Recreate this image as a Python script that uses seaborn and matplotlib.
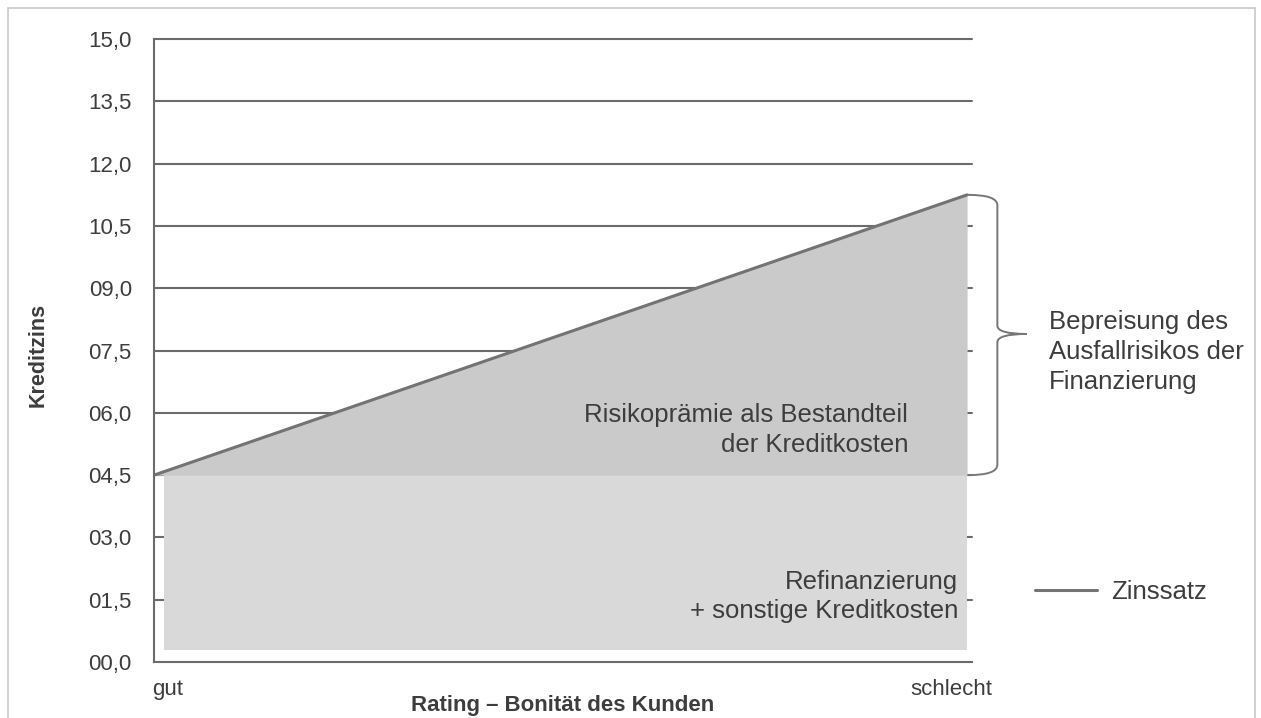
import numpy as np
import pandas as pd
import matplotlib
matplotlib.use("Agg")
import matplotlib.pyplot as plt
import matplotlib.transforms as mtrans
from matplotlib.path import Path
from matplotlib.patches import PathPatch, Rectangle
import seaborn as sns

# data
rating = [0.0, 0.994]            # gut -> schlecht
zinssatz = [4.5, 11.25]          # interest rate line
refi_x = [0.012, 0.994]
refi_low = [0.3, 0.3]
refi_high = [4.5, 4.5]
y_ticks = [0.0, 1.5, 3.0, 4.5, 6.0, 7.5, 9.0, 10.5, 12.0, 13.5, 15.0]
y_tick_labels = ["00,0", "01,5", "03,0", "04,5", "06,0", "07,5",
                 "09,0", "10,5", "12,0", "13,5", "15,0"]
x_tick_pos = [0.017, 0.975]
x_tick_labels = ["gut", "schlecht"]

txt = "#3d3d3d"
grid_c = "#6b6b6b"

sns.set_style("white")
plt.rcParams["font.family"] = ["Liberation Sans", "DejaVu Sans"]

W, H = 1261, 718
fig = plt.figure(figsize=(W / 100, H / 100), dpi=100)
ax = fig.add_axes([154 / W, (718 - 662) / H, (972 - 154) / W, (662 - 35) / H])

# gridlines behind the areas
for yv in y_ticks[1:]:
    ax.axhline(yv, color=grid_c, lw=1.5, zorder=0.5, clip_on=False)

df = pd.DataFrame({"rating": rating, "zins": zinssatz})
ax.fill_between(refi_x, refi_low, refi_high, color="#d9d9d9", lw=0, zorder=1)
ax.fill_between(rating, [refi_high[0]] * 2, zinssatz, color="#cacaca", lw=0, zorder=1)
sns.lineplot(data=df, x="rating", y="zins", color="#737373", lw=2.2, ax=ax,
             label="Zinssatz", zorder=3)

ax.set_xlim(0, 1)
ax.set_ylim(0, 15.1)
ax.set_yticks(y_ticks)
ax.set_yticklabels(y_tick_labels)
ax.set_xticks(x_tick_pos)
ax.set_xticklabels(x_tick_labels)
ax.tick_params(axis="y", length=0, pad=16, labelsize=16, labelcolor=txt)
ax.tick_params(axis="x", length=0, pad=12, labelsize=16, labelcolor=txt)
ax.set_xlabel("")
ax.set_ylabel("")
for side in ["top", "right"]:
    ax.spines[side].set_visible(False)
for side in ["left", "bottom"]:
    ax.spines[side].set_color(grid_c)
    ax.spines[side].set_linewidth(1.5)
    ax.spines[side].set_zorder(4)
ax.spines["left"].set_bounds(0, 15)

# labels inside the areas
ax.text(0.922, 5.59, "Risikoprämie als Bestandteil\nder Kreditkosten", ha="right",
        va="center", fontsize=18.5, color=txt, linespacing=1.3, zorder=5)
ax.text(0.983, 1.58, "Refinanzierung\n+ sonstige Kreditkosten", ha="right",
        va="center", fontsize=18.5, color=txt, linespacing=1.3, zorder=5)

# curly brace on the right
tr = mtrans.blended_transform_factory(ax.transAxes, ax.transData)
x0, x1, x2 = 0.995, 1.031, 1.067
top, mid, bot = zinssatz[1], 7.9, refi_high[0]
verts = [(x0, top), (x1, top), (x1, top - 0.25),
         (x1, mid + 0.2), (x1, mid), (x2, mid),
         (x1, mid), (x1, mid - 0.2),
         (x1, bot + 0.25), (x1, bot), (x0, bot)]
codes = [Path.MOVETO, Path.CURVE3, Path.CURVE3,
         Path.LINETO, Path.CURVE3, Path.CURVE3,
         Path.CURVE3, Path.CURVE3,
         Path.LINETO, Path.CURVE3, Path.CURVE3]
ax.add_patch(PathPatch(Path(verts, codes), transform=tr, fill=False,
                       edgecolor="#777777", lw=1.4, clip_on=False))

fig.text(1049 / W, (718 - 352) / H, "Bepreisung des\nAusfallrisikos der\nFinanzierung",
         ha="left", va="center", fontsize=18.5, color=txt, linespacing=1.33)

# axis titles
fig.text(38 / W, (718 - 355) / H, "Kreditzins", rotation=90, ha="center", va="center",
         fontsize=15.5, fontweight="bold", color=txt)
fig.text(563 / W, (718 - 706) / H, "Rating – Bonität des Kunden", ha="center",
         va="center", fontsize=16, fontweight="bold", color=txt)

leg = ax.legend(loc="center left", bbox_to_anchor=(1035 / W, (718 - 592) / H),
                bbox_transform=fig.transFigure, frameon=False, fontsize=18.5,
                handlelength=2.4, handletextpad=0.55, borderpad=0, borderaxespad=0)
for t in leg.get_texts():
    t.set_color(txt)

# light frame around the figure
fig.add_artist(Rectangle((8 / W, -0.05), (1255 - 8) / W, 1 - 8 / H + 0.05,
                         transform=fig.transFigure, fill=False,
                         edgecolor="#c8c8c8", lw=1.2))

fig.savefig("out.png", dpi=100)
